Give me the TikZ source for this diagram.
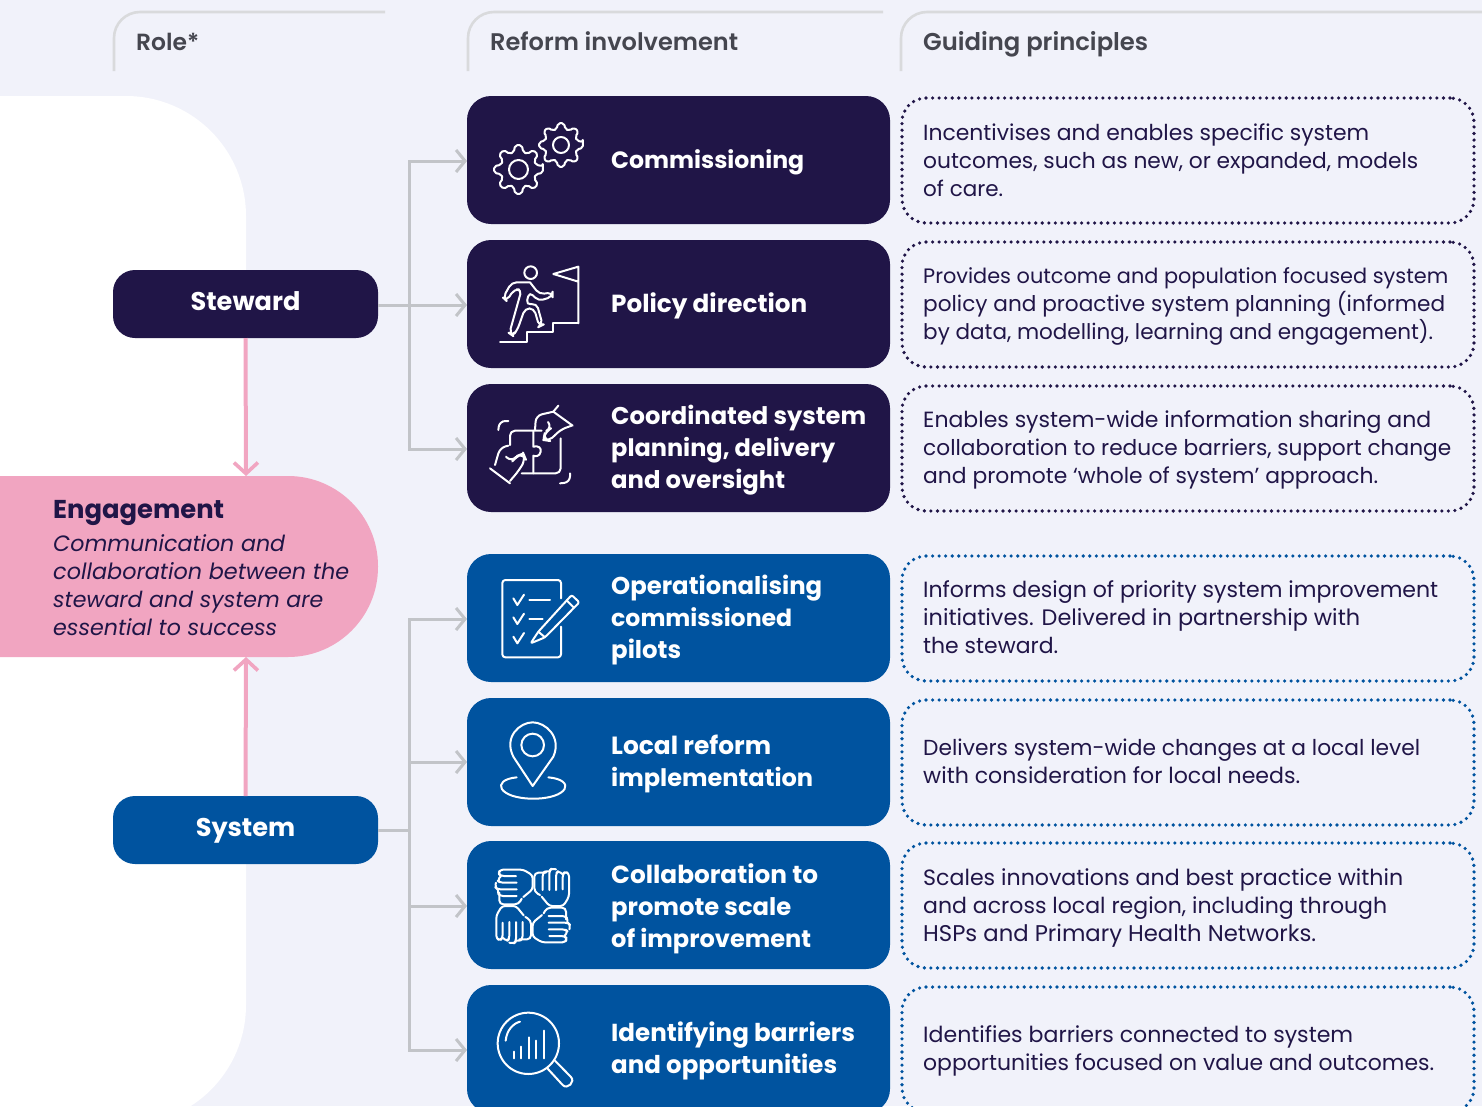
\documentclass[tikz,border=0pt]{standalone}
\usepackage{fontspec}
\usepackage{graphicx}
\setmainfont{Poppins}
\newfontfamily\headf{Poppins SemiBold}
\usetikzlibrary{arrows.meta,calc}
\definecolor{bg}{HTML}{F1F2FA}
\definecolor{navy}{HTML}{201547}
\definecolor{nhsblue}{HTML}{00539F}
\definecolor{pinkc}{HTML}{F1A5C1}
\definecolor{linegray}{HTML}{C2C4C8}
\definecolor{headgray}{HTML}{D9DADC}
\definecolor{headtext}{HTML}{45464F}
\newcommand{\fl}[2]{\resizebox{#1pt}{!}{#2}}
\tikzset{
 x=1pt,y=-1pt,
 card/.style={rounded corners=24pt,minimum width=423pt,minimum height=128pt,inner sep=0pt,outer sep=0pt,anchor=north west,fill=#1,draw=none},
 rolebox/.style={rounded corners=22pt,minimum width=265pt,minimum height=68pt,inner sep=0pt,outer sep=0pt,fill=#1,text=white,text height=18pt,text depth=6pt,font=\fontsize{25.6}{30}\selectfont\bfseries},
 prin/.style={rounded corners=24pt,minimum width=572pt,minimum height=125pt,inner sep=0pt,outer sep=0pt,anchor=north west,draw=#1,line width=3.6pt,line cap=round,dash pattern=on 0pt off 6.55pt},
 cardtext/.style={anchor=west,align=left,inner sep=0pt,text=white,font=\fontsize{24.5}{32}\selectfont\bfseries},
 printext/.style={anchor=west,align=left,inner sep=0pt,text=navy,font=\fontsize{22}{28}\selectfont},
 headtxt/.style={anchor=base west,inner sep=0pt,text=headtext,font=\fontsize{24}{30}\selectfont\headf},
 head/.style={draw=headgray,line width=2.6pt,rounded corners=26pt},
 conn/.style={draw=linegray,line width=3pt},
 connarr/.style={conn,-{Straight Barb[length=9pt,width=22pt,line width=3pt]}},
 pinkarr/.style={draw=pinkc,line width=4pt,-{Straight Barb[length=11pt,width=24pt,line width=3.6pt]}},
 ico/.style={draw=white,line width=2pt,line cap=round,line join=round,fill=none},
}
\newcommand{\gearicon}[4]{% cx cy outer inner
 \draw[ico,rounded corners=2pt] ($(#1,#2)+(-8:#3)$)
 \foreach \k in {0,45,...,315}{
   -- ($(#1,#2)+({\k-8}:#3)$) -- ($(#1,#2)+({\k+8}:#3)$) -- ($(#1,#2)+({\k+15}:#4)$) -- ($(#1,#2)+({\k+30}:#4)$)
 } -- cycle;
}
\begin{document}
\begin{tikzpicture}
\useasboundingbox (0,0) rectangle (1482,1106);
\clip (0,0) rectangle (1482,1106);
\fill[bg] (0,0) rectangle (1482,1106);
% white panel
\fill[white,rounded corners=120pt] (-200,96) rectangle (246,1125);
% headers
\draw[head] (114,71) -- (114,12) -- (385,12);
\draw[head] (468,71) -- (468,12) -- (883,12);
\draw[head] (901,71) -- (901,12) -- (1500,12);
\node[headtxt] (h1) at (136,50) {\fl{63}{Role*}};
\node[headtxt] (h2) at (490,50) {\fl{248}{Reform involvement}};
\node[headtxt] (h3) at (923,50) {\fl{225}{Guiding principles}};
% cards
\foreach \n/\y/\c in {c1/96/navy,c2/240/navy,c3/384/navy,c4/554/nhsblue,c5/698/nhsblue,c6/841/nhsblue,c7/985/nhsblue}{
  \node[card=\c] (\n) at (467,\y) {};
}
\foreach \n/\y/\c in {p1/98/navy,p2/242/navy,p3/386/navy,p4/556/nhsblue,p5/700/nhsblue,p6/843/nhsblue,p7/987/nhsblue}{
  \node[prin=\c] (\n) at (902,\y) {};
}
\node[cardtext] (t1) at (611,162) {\fl{193}{Commissioning}};
\node[cardtext] (t2) at (611,305.5) {\fl{196}{Policy direction}};
\node[cardtext] (t3) at (611,450) {\fl{255}{Coordinated system}\\\fl{224}{planning, delivery}\\\fl{174}{and oversight}};
\node[cardtext] (t4) at (611,620) {\fl{211}{Operationalising}\\\fl{181}{commissioned}\\\fl{70}{pilots}};
\node[cardtext] (t5) at (611,764) {\fl{160}{Local reform}\\\fl{202}{implementation}};
\node[cardtext] (t6) at (611,909) {\fl{207}{Collaboration to}\\\fl{180}{promote scale}\\\fl{200}{of improvement}};
\node[cardtext] (t7) at (611,1051) {\fl{244}{Identifying barriers}\\\fl{226}{and opportunities}};
\node[printext] (q1) at (923,160) {\fl{446}{Incentivises and enables specific system}\\\fl{495}{outcomes, such as new, or expanded, models}\\\fl{80}{of care.}};
\node[printext] (q2) at (923,306) {\fl{525}{Provides outcome and population focused system}\\\fl{522}{policy and proactive system planning (informed}\\\fl{510}{by data, modelling, learning and engagement).}};
\node[printext] (q3) at (923,450) {\fl{508}{Enables system-wide information sharing and}\\\fl{528}{collaboration to reduce barriers, support change}\\\fl{455}{and promote ‘whole of system’ approach.}};
\node[printext] (q4) at (923,617) {\fl{515}{Informs design of priority system improvement}\\\fl{437}{initiatives. Delivered in partnership with}\\\fl{135}{the steward.}};
\node[printext] (q5) at (923,761) {\fl{497}{Delivers system-wide changes at a local level}\\\fl{377}{with consideration for local needs.}};
\node[printext] (q6) at (923,908) {\fl{480}{Scales innovations and best practice within}\\\fl{464}{and across local region, including through}\\\fl{393}{HSPs and Primary Health Networks.}};
\node[printext] (q7) at (923,1051) {\fl{430}{Identifies barriers connected to system}\\\fl{511}{opportunities focused on value and outcomes.}};
% engagement
\fill[pinkc,rounded corners=90pt] (-200,476) rectangle (378,657);
\coordinate (engtop) at (246,476);
\coordinate (engbot) at (246,657);
\node[anchor=west,inner sep=0pt,text=navy,font=\fontsize{25}{30}\selectfont\bfseries] (e1) at (53,513) {\fl{171}{Engagement}};
\node[anchor=west,align=left,inner sep=0pt,text=navy,font=\fontsize{22.3}{28}\selectfont\itshape] (e2) at (53,585) {\fl{232}{Communication and}\\\fl{296}{collaboration between the}\\\fl{270}{steward and system are}\\\fl{224}{essential to success}};
% roles
\node[rolebox=navy] (steward) at (245.5,304) {Steward};
\node[rolebox=nhsblue] (system) at (245.5,830) {System};
\draw[pinkarr] (steward.south) -- (engtop);
\draw[pinkarr] (system.north) -- (engbot);
% connectors
\coordinate (tr1) at (409,305);
\coordinate (tr2) at (409,830);
\draw[conn] (steward.east |- tr1) -- (tr1);
\draw[connarr] (tr1) -- ($(c2.west)+(0,1)$);
\draw[connarr] (tr1) |- ($(c1.west)+(0,1)$);
\draw[connarr] (tr1) |- ($(c3.west)+(0,1)$);
\draw[conn] (system.east) -- (tr2);
\draw[connarr] (tr2) |- ($(c4.west)+(0,1)$);
\draw[connarr] (tr2) |- ($(c5.west)+(0,0)$);
\draw[connarr] (tr2) |- ($(c6.west)+(0,1)$);
\draw[connarr] (tr2) |- ($(c7.north west)+(0,65)$);
% icon 1 gears
\gearicon{518.5}{169.5}{24.5}{18}
\draw[ico] (518.5,169.5) circle[radius=9.5];
\gearicon{561}{145}{22}{16.5}
\draw[ico] (561,145) circle[radius=8];
% icon 2 runner
\begin{scope}[shift={(470,95)},scale=1/3]
 \draw[ico] (182,533) circle[radius=19];
 \draw[ico] (325,685) -- (325,515) -- (250,537) -- (325,560);
 \draw[ico] (325,685) -- (248,685) -- (248,712) -- (172,712) -- (172,740) -- (90,740);
 \draw[ico,rounded corners=5pt] (180,562) -- (125,562) -- (99,608) -- (110,618) -- (132,583) -- (155,583) -- (118,715) -- (128,722) -- (142,705) -- (165,640) -- (192,640) -- (208,695) -- (218,690) -- (200,625) -- (168,630) -- (178,590) -- (205,618) -- (248,605) -- (248,592) -- (208,598) -- (180,562);
\end{scope}
% icon 3 puzzle
\begin{scope}[shift={(470,385)},scale=1/3]
 \draw[ico,rounded corners=6pt] (85,135) -- (88,108) -- (115,108);
 \draw[ico,rounded corners=6pt] (270,295) -- (300,292) -- (300,265);
 \draw[ico,rounded corners=5pt] (120,180) -- (120,137) -- (215,137);
 \draw[ico] (190,137) -- (190,185) .. controls (205,180) and (215,190) .. (212,200) .. controls (210,215) and (195,215) .. (190,212) -- (190,265);
 \draw[ico,rounded corners=5pt] (155,265) -- (272,265) -- (272,160);
 \draw[ico,rounded corners=6pt] (195,135) -- (198,92) -- (250,80);
 \draw[ico] (250,80) -- (265,62);
 \draw[ico] (250,80) -- (308,122);
 \draw[ico,rounded corners=7pt] (305,122) -- (268,135) -- (240,168) -- (220,165) -- (225,140) -- (247,128) -- (235,112);
 \draw[ico] (60,250) -- (120,295);
 \draw[ico,rounded corners=6pt] (75,240) -- (90,188) -- (115,182);
 \draw[ico,rounded corners=7pt] (120,288) -- (148,255) -- (167,222) -- (160,205) -- (140,213) -- (125,232) -- (108,215);
\end{scope}
% icon 4 checklist
\begin{scope}[shift={(470,385)},scale=1/3]
 \draw[ico,rounded corners=3pt] (273,640) -- (273,585) -- (97,585) -- (97,817) -- (273,817) -- (273,725);
 \foreach \yy in {645,702,760}{
   \draw[ico] (130,\yy-5) -- (142,\yy+15) -- (162,\yy-16);
 }
 \draw[ico] (178,645) -- (240,645);
 \draw[ico] (178,702) -- (218,702);
 \draw[ico,rounded corners=2pt] (182,775) -- (205,740) -- (305,630) -- (328,652) -- (225,757) -- cycle;
 \draw[ico] (205,740) -- (225,757);
 \draw[ico] (290,646) -- (312,668);
\end{scope}
% icon 5 pin
\begin{scope}[shift={(470,700)},scale=1/3]
 \draw[ico] (188,135) circle[radius=34];
 \draw[ico] (188,258) -- (130,170) .. controls (100,110) and (150,67) .. (188,67) .. controls (226,67) and (276,110) .. (250,170) -- cycle;
 \draw[ico] (140,232) .. controls (60,240) and (85,296) .. (190,296) .. controls (295,296) and (320,240) .. (235,232);
\end{scope}
% icon 6 hands
\begin{scope}[shift={(470,700)},scale=1/3]
 \foreach \a in {0,-90,-180,-270}{
  \begin{scope}[shift={(188,618)},rotate=\a]
   \draw[ico,rounded corners=4pt] (40,-100) -- (5,-100) -- (5,-42) -- (22,-33);
   \draw[ico,rounded corners=3pt] (27,-28) -- (50,0) -- (92,0) -- (109,-28) -- (109,-98) -- (97,-103) -- (90,-95) -- (90,-50);
   \draw[ico,rounded corners=3pt] (90,-95) -- (77,-106) -- (70,-98) -- (70,-48);
   \draw[ico,rounded corners=3pt] (70,-110) -- (57,-113) -- (50,-106) -- (50,-48);
   \draw[ico,rounded corners=3pt] (50,-104) -- (40,-106) -- (30,-98) -- (30,-48);
  \end{scope}
 }
\end{scope}
% icon 7 magnifier
\begin{scope}[shift={(470,700)},scale=1/3]
 \draw[ico] (175,1030) circle[radius=92];
 \draw[ico] (107,1022) .. controls (110,990) and (130,970) .. (150,965);
 \draw[ico] (131,1055) -- (131,1075);
 \draw[ico] (154,1040) -- (154,1075);
 \draw[ico] (176,1012) -- (176,1075);
 \draw[ico] (198,1022) -- (198,1075);
 \draw[ico] (221,992) -- (221,1075);
 \draw[ico] (232,1105) -- (278,1155) .. controls (292,1170) and (318,1145) .. (302,1130) -- (255,1082);
\end{scope}
\end{tikzpicture}
\end{document}
